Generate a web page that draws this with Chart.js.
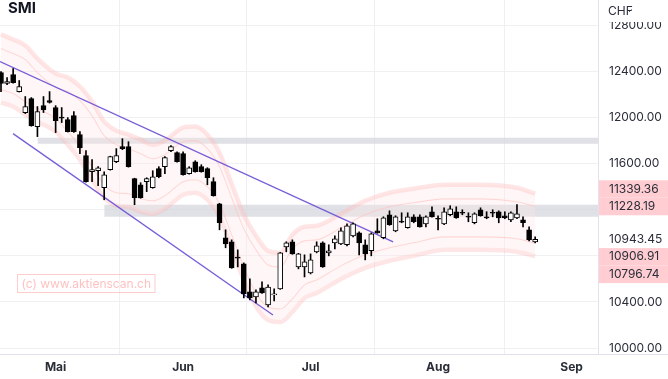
<!DOCTYPE html>
<html><head><meta charset="utf-8">
<script src="https://cdn.jsdelivr.net/npm/chart.js@4/dist/chart.umd.min.js"></script>
<style>html,body{margin:0;padding:0;background:#fff;overflow:hidden}canvas{display:block}</style>
</head><body>
<canvas id="c" width="668" height="379"></canvas>
<script>
// ---- daily candles (SMI), bar index 0 = first visible session ----
const openP  = [12391,12296,12374,12226,12044,12165,11922,12104,12148,12087,12000,11983,12017,11852,11670,11530,11539,11391,11548,11617,11748,11748,11470,11417,11444,11391,11557,11574,11713,11696,11687,11513,11617,11574,11557,11444,11252,10957,10922,10783,10730,10487,10443,10522,10374,10461,10513,10878,10922,10704,10704,10652,10835,10913,10826,10913,10904,10896,10974,11000,10896,10844,11017,10957,11157,11017,11096,11044,11139,11139,11078,11183,11122,11078,11157,11183,11174,11139,11087,11200,11139,11174,11183,11148,11113,11130,11113,11026,10922];
const highP  = [12400,12348,12426,12322,12183,12174,12096,12183,12226,12104,12087,12000,12052,11878,11713,11635,11574,11530,11665,11731,11817,11791,11474,11435,11478,11539,11574,11661,11757,11704,11704,11574,11626,11591,11565,11478,11256,11026,10939,10852,10739,10600,10504,10574,10548,10513,10830,10922,10939,10822,10809,10817,10922,10922,10896,10974,11044,11078,11087,11009,10939,11000,11122,11139,11191,11148,11174,11174,11157,11157,11148,11226,11148,11217,11235,11226,11200,11174,11174,11217,11183,11200,11191,11183,11183,11244,11139,11052,10965];
const lowP   = [12226,12287,12300,12222,12035,11925,11835,12044,12126,11870,11957,11875,11872,11687,11440,11444,11409,11287,11544,11609,11722,11570,11244,11300,11357,11387,11478,11513,11704,11613,11500,11509,11526,11526,11417,11318,11026,10870,10692,10704,10435,10417,10391,10474,10357,10409,10509,10835,10813,10687,10617,10643,10826,10700,10800,10861,10896,10887,10965,10809,10765,10800,10996,10948,11065,11009,11087,11040,11087,11048,11052,11135,11026,11070,11148,11126,11157,11096,11078,11144,11122,11139,11087,11122,11096,11122,11052,10930,10913];
const closeP = [12296,12313,12304,12270,12096,11931,12052,12070,12131,11974,11995,11878,11878,11739,11444,11548,11565,11504,11661,11670,11731,11574,11304,11304,11470,11487,11487,11652,11748,11617,11504,11565,11530,11530,11478,11322,11087,10904,10696,10780,10470,10435,10487,10478,10530,10470,10826,10913,10817,10817,10748,10765,10887,10704,10844,10948,11017,11061,11078,10913,10817,10991,11000,11130,11070,11139,11092,11139,11096,11052,11139,11139,11118,11183,11209,11130,11170,11135,11165,11148,11130,11170,11130,11130,11174,11165,11087,10939,10943.45];

// ---- x axis (month starts, by bar index) ----
const monthTickIdx = [9, 30, 51, 72, 94];
const monthLabels  = ['Mai', 'Jun', 'Jul', 'Aug', 'Sep'];

// ---- y axis ticks ----
const yTicks      = [10000, 10400, 10800, 11200, 11600, 12000, 12400, 12800];
const yTickLabels = ['10000.00', '10400.00', '', '', '11600.00', '12000.00', '12400.00', '12800.00'];

// ---- envelope bands, read at sampled bar indices ----
const bandIdx    = [0,2,4,6,9,11,13,15,17,19,21,23,25,27,30,32,34,36,38,40,42,44,46,48,50,52,56,60,64,68,73,79,85,88];
const upperOuter = [12722,12678,12626,12513,12383,12348,12270,12139,11965,11887,11852,11809,11765,11800,11913,11922,11852,11696,11426,11157,10974,10843,10826,10983,11052,11061,11165,11278,11348,11383,11417,11417,11391,11339.36];
const upperInner = [12600,12556,12504,12391,12261,12226,12148,12017,11843,11765,11730,11687,11643,11678,11791,11800,11730,11574,11304,11035,10852,10721,10704,10861,10930,10939,11043,11156,11226,11261,11295,11295,11269,11228.19];
const lowerInner = [12243,12209,12139,12078,11991,11878,11748,11574,11417,11348,11339,11296,11278,11322,11443,11461,11400,11252,10983,10704,10478,10356,10339,10426,10548,10591,10713,10809,10870,10913,10965,10965,10948,10906.91];
const lowerOuter = [12130,12096,12026,11965,11878,11765,11635,11461,11304,11235,11226,11183,11165,11209,11330,11348,11287,11139,10870,10591,10365,10243,10226,10313,10435,10478,10600,10696,10757,10800,10852,10852,10835,10796.74];

// ---- trend channel lines ----
const trendUpperIdx = [-0.16, 64.6];
const trendUpperVal = [12487, 10922];
const trendLowerIdx = [1.98, 44.8];
const trendLowerVal = [11861, 10287];

// ---- horizontal resistance zones ----
const zoneStartIdx = [6, 17];
const zoneTop      = [11826, 11244];
const zoneBottom   = [11774, 11139];

const X_MIN = -0.165, X_MAX = 98.35;
const FONT = 'Inter';
Chart.defaults.font.family = FONT;

const pts = (xs, ys) => xs.map((x, i) => ({x: x, y: ys[i]}));
const bandLine = (vals, thick) => ({
  type: 'line', data: pts(bandIdx, vals), pointRadius: 0,
  borderColor: thick ? 'rgba(255,180,180,0.33)' : 'rgba(255,170,170,0.55)',
  borderWidth: thick ? 4.5 : 1.1, cubicInterpolationMode: 'monotone', fill: false, order: 8
});

const datasets = [];
zoneStartIdx.forEach((s, k) => datasets.push({
  type: 'line', data: [{x: s, y: zoneTop[k]}, {x: X_MAX + 1, y: zoneTop[k]}],
  borderWidth: 0, pointRadius: 0, fill: {value: zoneBottom[k]},
  backgroundColor: 'rgba(214,215,222,0.75)', order: 20
}));
const uo = bandLine(upperOuter, true);
uo.fill = '+1'; uo.backgroundColor = 'rgba(255,230,230,0.33)';
datasets.push(uo);
datasets.push(bandLine(lowerOuter, true));
datasets.push(bandLine(upperInner, false));
datasets.push(bandLine(lowerInner, false));
[[trendUpperIdx, trendUpperVal], [trendLowerIdx, trendLowerVal]].forEach(([xs, ys]) => datasets.push({
  type: 'line', data: pts(xs, ys), borderColor: 'rgba(112,84,214,0.95)', borderWidth: 1.3,
  pointRadius: 0, fill: false, order: 5
}));
datasets.push({
  type: 'bar', data: highP.map((h, i) => ({x: i, y: [lowP[i], h]})),
  backgroundColor: '#000', borderWidth: 0, barThickness: 1, grouped: false, order: 2
});
datasets.push({
  type: 'bar', data: openP.map((o, i) => ({x: i, y: [o, closeP[i]]})),
  backgroundColor: openP.map((o, i) => closeP[i] < o ? '#000' : '#fff'),
  borderColor: '#000', borderWidth: 1, borderSkipped: false, barThickness: 5,
  minBarLength: 1, grouped: false, order: 1
});

const deco = {
  id: 'deco',
  beforeDatasetsDraw(chart) {
    const ctx = chart.ctx;
    ctx.save();
    ctx.font = '12px ' + FONT;
    const t = '(c) www.aktienscan.ch';
    const w = ctx.measureText(t).width;
    ctx.strokeStyle = 'rgba(255,170,170,0.6)'; ctx.lineWidth = 1;
    ctx.strokeRect(17.5, 274.5, w + 8, 18);
    ctx.fillStyle = 'rgba(255,140,140,0.55)';
    ctx.textBaseline = 'middle'; ctx.textAlign = 'left';
    ctx.fillText(t, 21.5, 284);
    ctx.restore();
  },
  afterDraw(chart) {
    const ctx = chart.ctx, ca = chart.chartArea, ys = chart.scales.y;
    ctx.save();
    ctx.strokeStyle = '#e0e3eb'; ctx.lineWidth = 1;
    ctx.beginPath(); ctx.moveTo(ca.right, ca.bottom + 0.5); ctx.lineTo(668, ca.bottom + 0.5); ctx.stroke();
    ctx.fillStyle = '#fff'; ctx.fillRect(ca.right + 1, 0, 668 - ca.right, 22);
    ctx.fillStyle = '#2a2e39'; ctx.font = '12px ' + FONT;
    ctx.textBaseline = 'middle'; ctx.textAlign = 'left';
    ctx.fillText('CHF', 608, 11);
    ctx.strokeStyle = '#2a2e39'; ctx.lineWidth = 1;
    ctx.beginPath(); ctx.moveTo(627.5, 9.5); ctx.lineTo(629.5, 11.5); ctx.lineTo(631.5, 9.5); ctx.stroke();
    const H = 17.5;
    const items = [
      {v: upperOuter[upperOuter.length - 1], bg: '#ffcdd2'},
      {v: upperInner[upperInner.length - 1], bg: '#ffcdd2'},
      {v: closeP[closeP.length - 1], bg: '#fff'},
      {v: lowerInner[lowerInner.length - 1], bg: '#ffcdd2'},
      {v: lowerOuter[lowerOuter.length - 1], bg: '#ffcdd2'}
    ];
    items.forEach(it => it.p = ys.getPixelForValue(it.v));
    for (let k = 1; k >= 0; k--) items[k].p = Math.min(items[k].p, items[k + 1].p - H);
    for (let k = 3; k < items.length; k++) items[k].p = Math.max(items[k].p, items[k - 1].p + H);
    items.forEach(it => {
      ctx.fillStyle = it.bg; ctx.fillRect(ca.right + 1, it.p - H / 2, 668 - ca.right, H);
      ctx.fillStyle = '#2a2e39'; ctx.font = '12px ' + FONT;
      ctx.fillText(it.v.toFixed(2), 609, it.p);
    });
    ctx.fillStyle = '#131722'; ctx.font = 'bold 15px ' + FONT;
    ctx.textBaseline = 'top';
    ctx.fillText('SMI', 8, 1);
    ctx.restore();
  }
};

new Chart(document.getElementById('c'), {
  type: 'bar',
  data: {datasets: datasets},
  options: {
    responsive: false, animation: false, events: [],
    layout: {padding: 0},
    plugins: {legend: {display: false}, tooltip: {enabled: false}, title: {display: false}},
    scales: {
      x: {
        type: 'linear', min: X_MIN, max: X_MAX, offset: false,
        grid: {color: '#f0f0f2', drawTicks: false},
        border: {color: '#e0e3eb'},
        ticks: {
          padding: 6, autoSkip: false, maxRotation: 0, color: '#2a2e39',
          font: {size: 12, weight: 'bold'},
          callback: (v, i) => monthLabels[i]
        },
        afterBuildTicks: s => { s.ticks = monthTickIdx.map(v => ({value: v})); },
        afterFit: s => { s.height = 25; s.paddingLeft = 0; s.paddingRight = 0; }
      },
      y: {
        type: 'linear', position: 'right', min: 9948, max: 13021,
        grid: {color: '#f0f0f2', drawTicks: false},
        border: {color: '#e0e3eb'},
        ticks: {padding: 11, color: '#2a2e39', font: {size: 12}, callback: (v, i) => yTickLabels[i]},
        afterBuildTicks: s => { s.ticks = yTicks.map(v => ({value: v})); },
        afterFit: s => { s.width = 70; s.paddingTop = 0; s.paddingBottom = 0; }
      }
    }
  },
  plugins: [deco]
});
</script>
</body></html>
